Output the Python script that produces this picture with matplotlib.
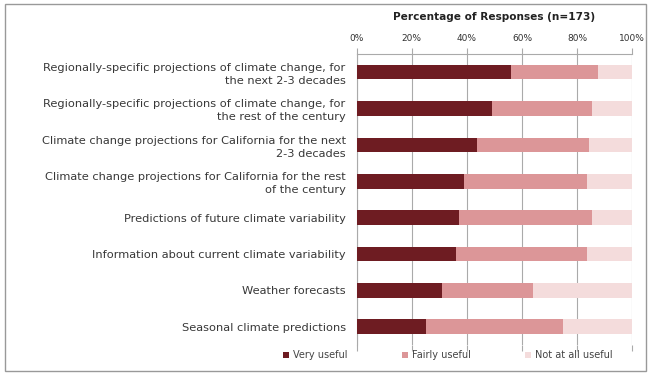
import matplotlib
matplotlib.use('Agg')
import matplotlib.pyplot as plt
from matplotlib.patches import Rectangle

plt.rcParams['font.family'] = ['DejaVu Sans']

categories = [
    "Regionally-specific projections of climate change, for\nthe next 2-3 decades",
    "Regionally-specific projections of climate change, for\nthe rest of the century",
    "Climate change projections for California for the next\n2-3 decades",
    "Climate change projections for California for the rest\nof the century",
    "Predictions of future climate variability",
    "Information about current climate variability",
    "Weather forecasts",
    "Seasonal climate predictions",
]
very_useful = [56, 49, 43.5, 39, 37, 36, 31, 25]
fairly_useful = [31.5, 36.5, 41, 44.5, 48.5, 47.5, 33, 50]
not_useful = [12.5, 14.5, 15.5, 16.5, 14.5, 16.5, 36, 25]
series_names = ["Very useful", "Fairly useful", "Not at all useful"]
colors = ['#6e1c22', '#dc9698', '#f4dcdc']
ticks = [0, 20, 40, 60, 80, 100]

fig = plt.figure(figsize=(6.51, 3.77), dpi=100)
ax = fig.add_axes([0.548, 0.085, 0.423, 0.772])

y = list(range(len(categories)))
left = [0] * len(categories)
for vals, name, c in zip([very_useful, fairly_useful, not_useful], series_names, colors):
    ax.barh(y, vals, left=left, height=0.4, color=c, label=name, zorder=3)
    left = [a + b for a, b in zip(left, vals)]

ax.set_ylim(len(categories) - 0.5, -0.5)
ax.set_xlim(0, 100)
ax.set_xticks(ticks)
ax.set_xticklabels([f"{t}%" for t in ticks], fontsize=6.5, color='#333333')
ax.xaxis.tick_top()
ax.xaxis.set_label_position('top')
ax.tick_params(axis='x', which='both', top=True, bottom=True, length=4, color='#aaaaaa', pad=4)
ax.set_yticks(y)
ax.set_yticklabels(categories, fontsize=8.2, color='#383838', linespacing=1.35)
ax.tick_params(axis='y', length=0, pad=8)
ax.grid(axis='x', color='#aaaaaa', linewidth=0.8, zorder=0)
for s in ['right', 'bottom']:
    ax.spines[s].set_visible(False)
ax.spines['top'].set_color('#aaaaaa')
ax.spines['left'].set_color('#aaaaaa')
ax.set_title("Percentage of Responses (n=173)", fontsize=7.6, fontweight='bold', pad=10, color='#222222')

fig.legend(loc='center', bbox_to_anchor=(0.688, 0.058), ncol=3, frameon=False, fontsize=7,
           handlelength=0.6, handleheight=0.6, columnspacing=5.6, handletextpad=0.4,
           labelcolor='#444444')

fig.patches.append(Rectangle((0.008, 0.015), 0.985, 0.975, transform=fig.transFigure,
                             fill=False, edgecolor='#999999', linewidth=1))

plt.savefig('out.png', dpi=100, facecolor='white')
plt.close()
